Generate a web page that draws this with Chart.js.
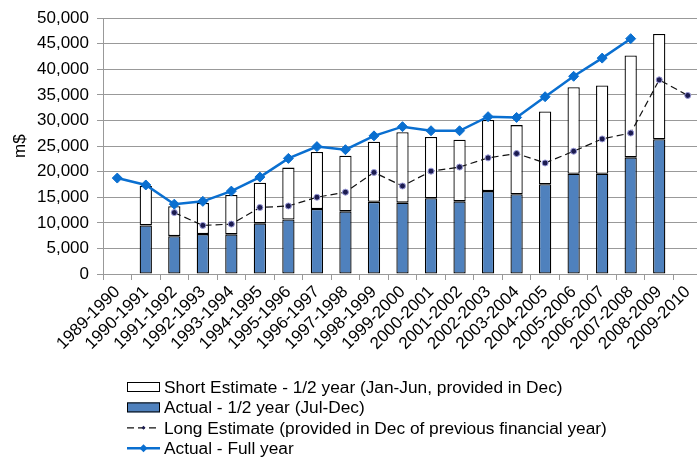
<!DOCTYPE html>
<html>
<head>
<meta charset="utf-8">
<script src="https://cdn.jsdelivr.net/npm/chart.js@4"></script>
<style>
  html, body { margin: 0; padding: 0; background: #fff; overflow: hidden; }
  canvas { display: block; }
</style>
</head>
<body>
<canvas id="chart" width="708" height="459"></canvas>
<script>
const years = ['1989-1990', '1990-1991', '1991-1992', '1992-1993', '1993-1994', '1994-1995',
  '1995-1996', '1996-1997', '1997-1998', '1998-1999', '1999-2000', '2000-2001', '2001-2002',
  '2002-2003', '2003-2004', '2004-2005', '2005-2006', '2006-2007', '2007-2008', '2008-2009', '2009-2010'];

// Jul-Dec actuals (bottom of each bar)
const actualHalf = [null, 9500, 7400, 7800, 7750, 9900, 10650, 12700, 12250, 14100, 13950,
  14800, 14200, 16200, 15600, 17550, 19600, 19600, 22800, 26350, null];

// Jan-Jun short estimate (stacked on top)
const shortEstimate = [null, 7700, 5850, 6100, 7700, 7950, 10150, 11150, 10850, 11750, 13750,
  12000, 12050, 13900, 13500, 14200, 16900, 17250, 19900, 20550, null];

const longEstimate = [null, null, 12000, 9500, 9750, 13000, 13300, 15000, 16000, 19850, 17200,
  20100, 20900, 22700, 23550, 21700, 24000, 26400, 27550, 37950, 34900];

const actualFull = [18750, 17400, 13650, 14200, 16200, 18950, 22600, 24900, 24300, 27000, 28800,
  28000, 28000, 30750, 30600, 34650, 38650, 42200, 46000, null, null];

const yTicks = [0, 5000, 10000, 15000, 20000, 25000, 30000, 35000, 40000, 45000, 50000];

const FONT = "'Liberation Sans', Arial, sans-serif";
const gridGray = '#999999';

// legend drawn under the x labels, one entry per row
const legendRows = [
  { ds: 1, kind: 'box' },
  { ds: 0, kind: 'box' },
  { ds: 3, kind: 'line' },
  { ds: 2, kind: 'line' }
];

const stackedLegend = {
  id: 'stackedLegend',
  afterDraw(chart) {
    const c = chart.ctx;
    const x0 = 127, x1 = 160, tx = 164;
    let y = 387;
    c.save();
    c.font = '17.3px ' + FONT;
    c.textBaseline = 'middle';
    legendRows.forEach(row => {
      const ds = chart.data.datasets[row.ds];
      if (row.kind === 'box') {
        c.fillStyle = ds.backgroundColor;
        c.fillRect(x0, y - 5, x1 - x0, 10);
        c.strokeStyle = '#000';
        c.lineWidth = 1;
        c.strokeRect(x0 + 0.5, y - 4.5, x1 - x0 - 1, 9);
      } else {
        c.strokeStyle = ds.borderColor;
        c.lineWidth = ds.borderWidth;
        c.setLineDash(ds.borderDash || []);
        c.beginPath();
        c.moveTo(x0, y);
        c.lineTo(x1, y);
        c.stroke();
        c.setLineDash([]);
        const r = ds.pointRadius - 1;
        c.fillStyle = ds.pointBackgroundColor;
        c.beginPath();
        c.moveTo((x0 + x1) / 2, y - r);
        c.lineTo((x0 + x1) / 2 + r, y);
        c.lineTo((x0 + x1) / 2, y + r);
        c.lineTo((x0 + x1) / 2 - r, y);
        c.closePath();
        c.fill();
      }
      c.fillStyle = '#000';
      c.fillText(ds.label, tx, y + 1);
      y += 20.4;
    });
    c.restore();
  }
};

const ctx = document.getElementById('chart').getContext('2d');
const chart = new Chart(ctx, {
  type: 'bar',
  data: {
    labels: years,
    datasets: [
      {
        label: 'Actual - 1/2 year (Jul-Dec)',
        data: actualHalf,
        backgroundColor: '#4f81bd',
        borderColor: '#000',
        borderWidth: 1.3,
        borderSkipped: false,
        stack: 'half',
        order: 2,
        barPercentage: 0.43,
        categoryPercentage: 1
      },
      {
        label: 'Short Estimate - 1/2 year (Jan-Jun, provided in Dec)',
        data: shortEstimate,
        backgroundColor: '#ffffff',
        borderColor: '#000',
        borderWidth: 1.3,
        borderSkipped: false,
        stack: 'half',
        order: 2,
        barPercentage: 0.43,
        categoryPercentage: 1
      },
      {
        type: 'line',
        label: 'Actual - Full year',
        data: actualFull,
        borderColor: '#0a6fd0',
        backgroundColor: '#0a6fd0',
        borderWidth: 2.5,
        pointStyle: 'rectRot',
        pointRadius: 5,
        pointBackgroundColor: '#0a6fd0',
        pointBorderColor: '#0a6fd0',
        pointBorderWidth: 1,
        tension: 0,
        spanGaps: false,
        stack: 'full',
        order: 0
      },
      {
        type: 'line',
        label: 'Long Estimate (provided in Dec of previous financial year)',
        data: longEstimate,
        borderColor: '#111',
        backgroundColor: '#1c1c50',
        borderWidth: 1.2,
        borderDash: [7, 4],
        pointStyle: 'circle',
        pointRadius: 3,
        pointBackgroundColor: '#1c1c50',
        pointBorderColor: '#9a9ad8',
        pointBorderWidth: 1,
        tension: 0,
        stack: 'long',
        order: 1
      }
    ]
  },
  options: {
    responsive: false,
    animation: false,
    layout: { padding: { top: 13, right: 1, left: 0, bottom: 0 } },
    plugins: {
      legend: { display: false },
      tooltip: { enabled: false }
    },
    scales: {
      x: {
        stacked: true,
        offset: true,
        grid: {
          display: true,
          drawOnChartArea: false,
          offset: true,
          color: gridGray,
          tickLength: 6
        },
        border: { color: gridGray },
        ticks: {
          color: '#000',
          font: { family: FONT, size: 17 },
          minRotation: 45,
          maxRotation: 45,
          autoSkip: false,
          padding: 2
        },
        afterFit(scale) { scale.height = 185; }
      },
      y: {
        stacked: true,
        min: 0,
        max: 50000,
        afterBuildTicks(scale) {
          scale.ticks = yTicks.map(v => ({ value: v }));
        },
        grid: { color: gridGray, tickLength: 6 },
        border: { color: gridGray },
        ticks: {
          color: '#000',
          font: { family: FONT, size: 17 },
          padding: 8,
          callback: v => v.toLocaleString('en-US')
        },
        title: {
          display: true,
          text: 'm$',
          color: '#000',
          font: { family: FONT, size: 17 },
          padding: { top: 10, bottom: 0 }
        },
        afterFit(scale) { scale.width = 103; }
      }
    }
  },
  plugins: [stackedLegend]
});
</script>
</body>
</html>
